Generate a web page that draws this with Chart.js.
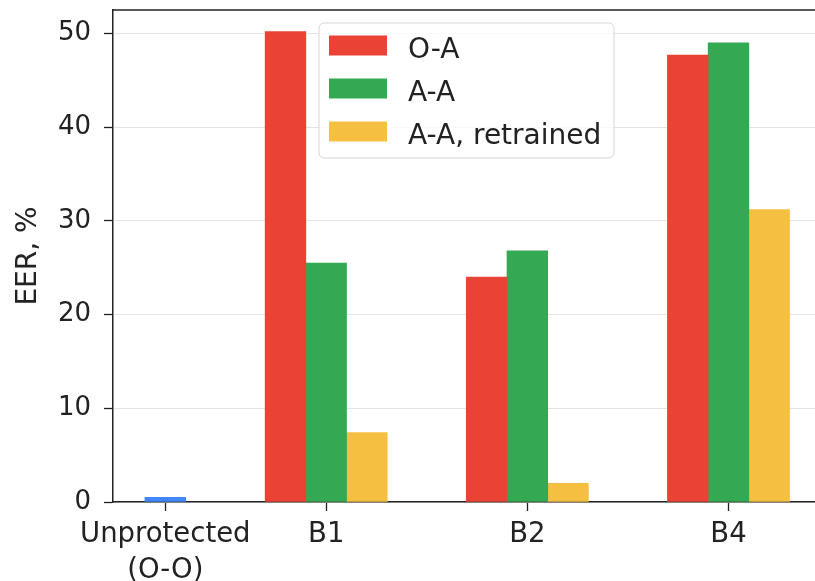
<!DOCTYPE html>
<html>
<head>
<meta charset="utf-8">
<script src="https://cdn.jsdelivr.net/npm/chart.js@4.4.1/dist/chart.umd.min.js"></script>
<style>
  html, body { margin: 0; padding: 0; background: #fff; overflow: hidden; }
  #wrap { width: 880px; height: 581px; }
</style>
</head>
<body>
<div id="wrap"><canvas id="c" width="880" height="581"></canvas></div>
<script>
// Categories, their positions on the x axis, and EER values (%) per scheme
const categories = ['Unprotected\n(O-O)', 'B1', 'B2', 'B4'];
const categoryX = [0.2, 1, 2, 3];
const unprotected = [0.5, null, null, null];
const oa = [null, 50.2, 24.0, 47.7];
const aa = [null, 25.5, 26.8, 49.0];
const aaRetrained = [null, 7.4, 2.0, 31.2];
const yTicks = [0, 10, 20, 30, 40, 50];

const FONT = "'DejaVu Sans', 'Liberation Sans', sans-serif";
const INK = '#222222';

function points(values) {
  return values
    .map((v, i) => (v === null ? null : { x: categoryX[i], y: v }))
    .filter(p => p !== null);
}

// Legend box drawn inside the plot, upper middle
const legendPlugin = {
  id: 'boxLegend',
  afterDraw(chart) {
    const ctx = chart.ctx;
    const items = chart.data.datasets.filter(d => d.showInLegend);
    const bx = 319, by = 23, bw = 295, bh = 135, r = 5;
    ctx.save();
    ctx.beginPath();
    ctx.moveTo(bx + r, by);
    ctx.arcTo(bx + bw, by, bx + bw, by + bh, r);
    ctx.arcTo(bx + bw, by + bh, bx, by + bh, r);
    ctx.arcTo(bx, by + bh, bx, by, r);
    ctx.arcTo(bx, by, bx + bw, by, r);
    ctx.closePath();
    ctx.fillStyle = 'rgba(255,255,255,0.8)';
    ctx.fill();
    ctx.strokeStyle = '#d6d6d6';
    ctx.lineWidth = 1;
    ctx.stroke();
    ctx.font = '28px ' + FONT;
    ctx.textBaseline = 'middle';
    ctx.textAlign = 'left';
    items.forEach((d, i) => {
      const cy = 45.5 + i * 43;
      ctx.fillStyle = d.backgroundColor;
      ctx.fillRect(329, cy - 10, 58, 20);
      ctx.fillStyle = INK;
      ctx.fillText(d.label, 408, cy + 5);
    });
    ctx.restore();
  }
};

// Top spine of the axes frame
const framePlugin = {
  id: 'frame',
  afterDraw(chart) {
    const { ctx, chartArea } = chart;
    ctx.save();
    ctx.strokeStyle = INK;
    ctx.lineWidth = 1.5;
    ctx.beginPath();
    ctx.moveTo(chartArea.left, chartArea.top);
    ctx.lineTo(chartArea.right, chartArea.top);
    ctx.stroke();
    ctx.restore();
  }
};

new Chart(document.getElementById('c'), {
  type: 'bar',
  data: {
    datasets: [
      { label: 'O-A', data: points(oa), backgroundColor: '#EA4335', stack: 'a', showInLegend: true },
      { label: 'A-A', data: points(aa), backgroundColor: '#34A853', stack: 'b', showInLegend: true },
      { label: 'A-A, retrained', data: points(aaRetrained), backgroundColor: '#F5BF42', stack: 'c', showInLegend: true },
      { label: 'Unprotected', data: points(unprotected), backgroundColor: '#4285F4', stack: 'b', showInLegend: false }
    ]
  },
  options: {
    responsive: false,
    devicePixelRatio: 1,
    animation: false,
    barThickness: 40.7,
    layout: { padding: { top: 10, right: 59, left: 0, bottom: 0 } },
    plugins: {
      legend: { display: false },
      tooltip: { enabled: false }
    },
    scales: {
      x: {
        type: 'linear',
        offset: false,
        min: -0.06,
        max: 3.46,
        afterBuildTicks(scale) {
          scale.ticks = categoryX.map(v => ({ value: v }));
        },
        afterFit(scale) {
          scale.height = 79;
          scale.paddingLeft = 0;
          scale.paddingRight = 0;
        },
        grid: {
          offset: false,
          drawOnChartArea: false,
          drawTicks: true,
          tickLength: 9,
          tickColor: INK,
          tickWidth: 1.3
        },
        border: { color: INK, width: 1.5 },
        ticks: {
          color: INK,
          font: { family: FONT, size: 27.5, lineHeight: 1.3 },
          padding: 6,
          autoSkip: false,
          maxRotation: 0,
          callback: (v, i) => {
            const lbl = categories[i];
            return lbl === undefined ? '' : lbl.split('\n');
          }
        }
      },
      y: {
        min: 0,
        max: 52.5,
        afterBuildTicks(scale) {
          scale.ticks = yTicks.map(v => ({ value: v }));
        },
        afterFit(scale) {
          scale.width = 113;
          scale.paddingTop = 0;
          scale.paddingBottom = 0;
        },
        grid: {
          color: '#e4e4e4',
          lineWidth: 1,
          drawTicks: true,
          tickLength: 9,
          tickColor: INK,
          tickWidth: 1.3
        },
        border: { color: INK, width: 1.5 },
        ticks: {
          color: INK,
          font: { family: FONT, size: 26 },
          padding: 13
        },
        title: {
          display: true,
          text: 'EER, %',
          color: INK,
          font: { family: FONT, size: 28 },
          padding: { top: 12, bottom: 0 }
        }
      }
    }
  },
  plugins: [legendPlugin, framePlugin]
});
</script>
</body>
</html>
